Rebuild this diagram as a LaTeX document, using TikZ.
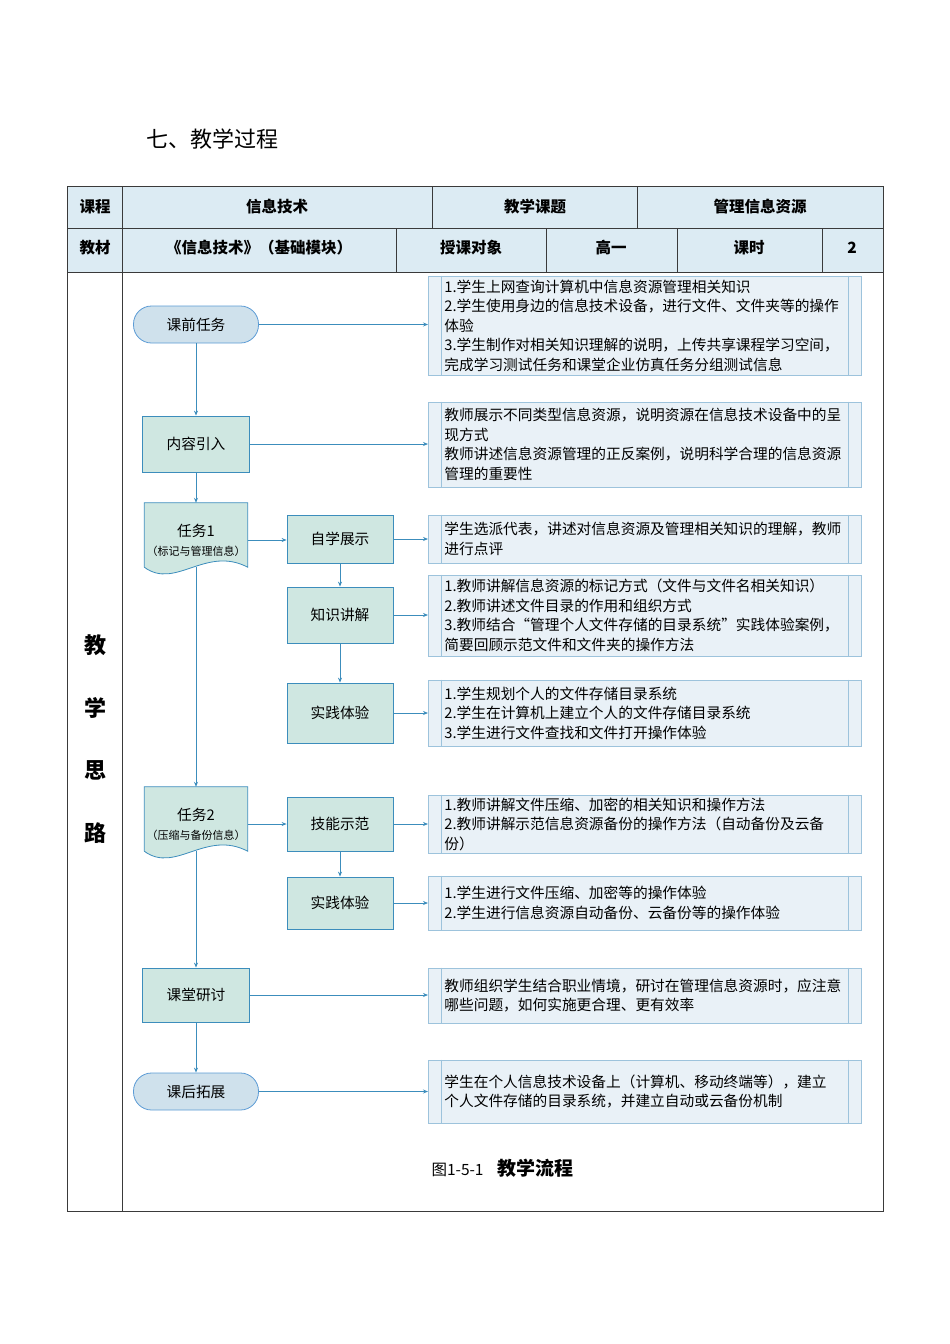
\documentclass[tikz,border=0pt]{standalone}
\usepackage{fontspec}
\setmainfont{Noto Sans CJK SC}
\usetikzlibrary{arrows.meta,backgrounds}

\definecolor{flowline}{HTML}{3C8DBC}
\definecolor{termfill}{HTML}{CFE1EC}
\definecolor{termline}{HTML}{5B9BD5}
\definecolor{stepfill}{HTML}{CFE7E1}
\definecolor{descfill}{HTML}{E9F1F7}
\definecolor{descline}{HTML}{9DC3DC}
\definecolor{hdrfill}{HTML}{DCEBF3}
\definecolor{gridline}{HTML}{3A3A3A}
\newcommand\descfont{\fontsize{14.7pt}{19.5pt}\selectfont}
\newcommand\stepfont{\fontsize{14.7pt}{19pt}\selectfont}
\newcommand\hdrfont{\fontsize{15.5pt}{18pt}\selectfont\bfseries}

\begin{document}
\begin{tikzpicture}[x=1pt, y=-1pt,
  grid/.style={draw=gridline, line width=0.9pt},
  hdr/.style={font=\hdrfont, inner sep=0pt},
  term/.style={draw=termline, fill=termfill, line width=0.8pt, rounded corners=18pt, minimum width=125pt, minimum height=37pt, font=\stepfont},
  stepbox/.style={draw=flowline, fill=stepfill, line width=0.8pt, minimum width=106pt, font=\stepfont},
  docnode/.style={minimum width=103pt, minimum height=54pt, align=center, font=\stepfont, inner sep=0pt},
  desc/.style={draw=descline, fill=descfill, line width=0.8pt, anchor=west, text width=401pt, inner xsep=16pt, inner ysep=2pt, align=left, font=\descfont},
  link/.style={draw=flowline, line width=0.8pt},
  >={Stealth[length=5pt,width=4pt]}
]
\useasboundingbox (0,0) rectangle (950,1344);

% title
\node[anchor=west, font=\fontsize{22pt}{26pt}\selectfont] (title) at (143,139) {七、教学过程};

% table
\fill[hdrfill] (67,186) rectangle (883,272);
\draw[grid] (67,186) rectangle (883,1211);
\draw[grid] (67,228) -- (883,228) (67,272) -- (883,272);
\draw[grid] (122,186) -- (122,1211);
\draw[grid] (432,186) -- (432,228) (637,186) -- (637,228);
\foreach \x in {396,546,677,822}
  \draw[grid] (\x,228) -- (\x,272);

\node[hdr] (course) at (95,207) {课程};
\node[hdr] (coursev) at (277,207) {信息技术};
\node[hdr] (topic) at (535,207) {教学课题};
\node[hdr] (topicv) at (760,207) {管理信息资源};
\node[hdr] (book) at (95,248) {教材};
\node[hdr] (bookv) at (259,248) {《信息技术》（基础模块）};
\node[hdr] (aud) at (471,248) {授课对象};
\node[hdr] (audv) at (611,248) {高一};
\node[hdr] (hours) at (749,248) {课时};
\node[hdr] (hoursv) at (852,248) {2};

\node[align=center, font=\fontsize{22pt}{62.5pt}\selectfont\bfseries] (idea) at (95,739) {教\\学\\思\\路};

% flow, left column
\node[term] (pre) at (196,324.5) {课前任务};
\node[stepbox, minimum width=107pt, minimum height=56pt] (intro) at (196,444) {内容引入};
\node[docnode] (t1) at (196,540) {任务1\\{\fontsize{11pt}{13pt}\selectfont（标记与管理信息）}};
\coordinate (t1top) at ([yshift=10pt]t1.north);
\node[docnode] (t2) at (196,824) {任务2\\{\fontsize{11pt}{13pt}\selectfont（压缩与备份信息）}};
\coordinate (t2top) at ([yshift=10pt]t2.north);
\node[stepbox, minimum width=107pt, minimum height=54pt] (disc) at (196,995) {课堂研讨};
\node[term] (post) at (196,1091.5) {课后拓展};

% flow, middle column
\node[stepbox, minimum height=48pt] (show) at (340,539) {自学展示};
\node[stepbox, minimum height=56pt] (know) at (340,615) {知识讲解};
\node[stepbox, minimum height=60pt] (prac1) at (340,713) {实践体验};
\node[stepbox, minimum height=54pt] (demo) at (340,824) {技能示范};
\node[stepbox, minimum height=52pt] (prac2) at (340,903) {实践体验};

% descriptions
\node[desc, minimum height=99pt] (d1) at (428,325.5) {1.学生上网查询计算机中信息资源管理相关知识\\2.学生使用身边的信息技术设备，进行文件、文件夹等的操作\\体验\\3.学生制作对相关知识理解的说明，上传共享课程学习空间，\\完成学习测试任务和课堂企业仿真任务分组测试信息};
\node[desc, minimum height=85pt] (d2) at (428,444.5) {教师展示不同类型信息资源，说明资源在信息技术设备中的呈\\现方式\\教师讲述信息资源管理的正反案例，说明科学合理的信息资源\\管理的重要性};
\node[desc, minimum height=48pt] (d3) at (428,539) {学生选派代表，讲述对信息资源及管理相关知识的理解，教师\\进行点评};
\node[desc, minimum height=81pt] (d4) at (428,615.5) {1.教师讲解信息资源的标记方式（文件与文件名相关知识）\\2.教师讲述文件目录的作用和组织方式\\3.教师结合“管理个人文件存储的目录系统”实践体验案例，\\简要回顾示范文件和文件夹的操作方法};
\node[desc, minimum height=66pt] (d5) at (428,713) {1.学生规划个人的文件存储目录系统\\2.学生在计算机上建立个人的文件存储目录系统\\3.学生进行文件查找和文件打开操作体验};
\node[desc, minimum height=58pt] (d6) at (428,824) {1.教师讲解文件压缩、加密的相关知识和操作方法\\2.教师讲解示范信息资源备份的操作方法（自动备份及云备\\份）};
\node[desc, minimum height=54pt] (d7) at (428,903) {1.学生进行文件压缩、加密等的操作体验\\2.学生进行信息资源自动备份、云备份等的操作体验};
\node[desc, minimum height=55pt] (d8) at (428,995.5) {教师组织学生结合职业情境，研讨在管理信息资源时，应注意\\哪些问题，如何实施更合理、更有效率};
\node[desc, minimum height=63pt] (d9) at (428,1091.5) {学生在个人信息技术设备上（计算机、移动终端等），建立\\个人文件存储的目录系统，并建立自动或云备份机制};
\foreach \i in {1,...,9} {
  \draw[descline, line width=0.8pt] ([xshift=13.5pt]d\i.north west) -- ([xshift=13.5pt]d\i.south west);
  \draw[descline, line width=0.8pt] ([xshift=-13.5pt]d\i.north east) -- ([xshift=-13.5pt]d\i.south east);
}

% document shapes behind the task labels
\begin{scope}[on background layer]
\foreach \t in {t1,t2}
  \draw[flowline, fill=stepfill, line width=0.8pt] ([yshift=10pt]\t.north west) -- ([yshift=10pt]\t.north east) -- (\t.south east)
    .. controls +(-42pt,22pt) and +(31pt,-23pt) .. (\t.south west) -- cycle;
\end{scope}

% connectors
\draw[link, ->] (pre) -- (intro);
\draw[link, ->] (intro) -- (t1top);
\draw[link, ->] (t1.south) -- (t2top);
\draw[link, ->] (t2.south) -- (disc);
\draw[link, ->] (disc) -- (post);
\draw[link, ->] (pre) -- (pre -| d1.west);
\draw[link, ->] (intro) -- (intro -| d2.west);
\draw[link, ->] (t1) -- (t1 -| show.west);
\draw[link, ->] (show) -- (show -| d3.west);
\draw[link, ->] (show) -- (know);
\draw[link, ->] (know) -- (know -| d4.west);
\draw[link, ->] (know) -- (prac1);
\draw[link, ->] (prac1) -- (prac1 -| d5.west);
\draw[link, ->] (t2) -- (t2 -| demo.west);
\draw[link, ->] (demo) -- (demo -| d6.west);
\draw[link, ->] (demo) -- (prac2);
\draw[link, ->] (prac2) -- (prac2 -| d7.west);
\draw[link, ->] (disc) -- (disc -| d8.west);
\draw[link, ->] (post) -- (post -| d9.west);

% caption
\node[anchor=west] (cap) at (428,1168) {{\fontsize{15.5pt}{18pt}\selectfont 图1-5-1}\hspace{14pt}{\fontsize{19pt}{22pt}\selectfont\bfseries 教学流程}};
\end{tikzpicture}
\end{document}
